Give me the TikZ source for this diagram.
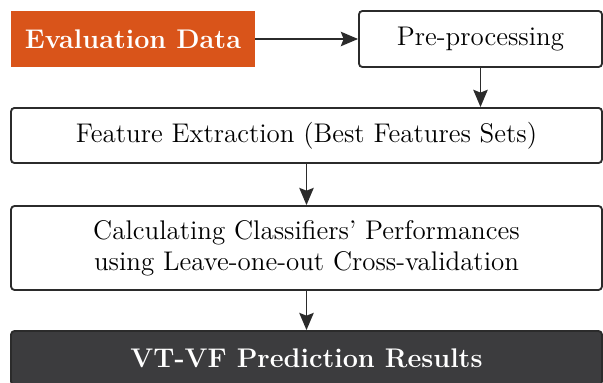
\documentclass[tikz,border=0pt]{standalone}
\usepackage{xcolor}
\usepackage{tikz}
\usetikzlibrary{arrows.meta,positioning}
\definecolor{evalorange}{HTML}{D9541A}
\definecolor{resultgray}{HTML}{3C3C3E}
\definecolor{linegray}{HTML}{2B2B2B}

\begin{document}
\begin{tikzpicture}[
  x=0.43pt,y=-0.43pt,
  font=\fontsize{11.6}{13.5}\selectfont,
  stepbox/.style={draw=linegray,thick,fill=white,rounded corners=1.5pt,align=center,inner sep=0pt},
  databox/.style={fill=evalorange,text=white,font=\fontsize{11.6}{13.5}\selectfont\bfseries,inner sep=0pt},
  resbox/.style={draw=linegray,thick,fill=resultgray,text=white,font=\fontsize{11.6}{13.5}\selectfont\bfseries,rounded corners=1.5pt,inner sep=0pt},
  fl/.style={-{Stealth[length=7.4pt,width=6.2pt,inset=1.2pt]},draw=linegray,thick},
]
\useasboundingbox (0,0) rectangle (603,383);
\clip (0,0) rectangle (603,383);
\node[databox,minimum width=104.9pt,minimum height=24.1pt] (data) at (133,39) {Evaluation Data};
\node[stepbox,minimum width=104.5pt,minimum height=24.1pt] (pre) at (480.5,39) {Pre-processing};
\node[stepbox,minimum width=254.1pt,minimum height=23.7pt] (feat) at (306.5,135.5) {Feature Extraction (Best Features Sets)};
\node[stepbox,minimum width=254.1pt,minimum height=36.1pt] (calc) at (306.5,248) {Calculating Classifiers' Performances\\using Leave-one-out Cross-validation};
\node[resbox,minimum width=254.1pt,minimum height=23.2pt] (res) at (306.5,358) {VT-VF Prediction Results};
\draw[fl] (data) -- (pre);
\draw[fl] (pre) -- (pre |- feat.north);
\draw[fl] (calc.north |- feat.south) -- (calc);
\draw[fl] (calc) -- (res);
\end{tikzpicture}
\end{document}
